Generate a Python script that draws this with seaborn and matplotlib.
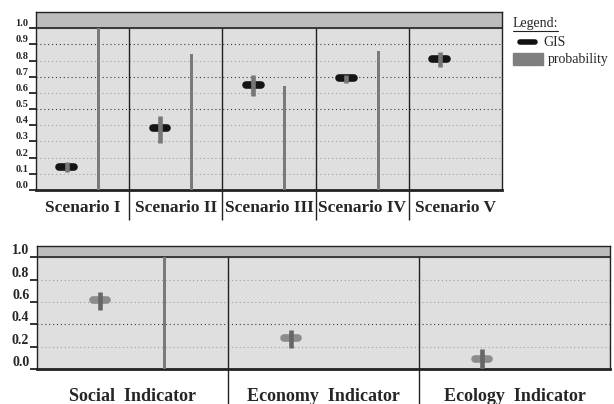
import numpy as np
import pandas as pd
import matplotlib
matplotlib.use('Agg')
import matplotlib.pyplot as plt
import seaborn as sns
from matplotlib.lines import Line2D
from matplotlib.patches import Rectangle

sns.set_style('white')
plt.rcParams['font.family'] = ['Liberation Serif', 'DejaVu Serif']

# Upper panel: scenarios
scenarios = ['Scenario I', 'Scenario II', 'Scenario III', 'Scenario IV', 'Scenario V']
gis = [0.14, 0.385, 0.65, 0.69, 0.81]
gis_low = [0.11, 0.29, 0.58, 0.66, 0.76]
gis_high = [0.17, 0.46, 0.71, 0.71, 0.85]
probability = [1.0, 0.84, 0.64, 0.86, 0.0]
scen_ticks = [0.0, 0.1, 0.2, 0.3, 0.4, 0.5, 0.6, 0.7, 0.8, 0.9, 1.0]

# Lower panel: indicators
indicators = ['Social  Indicator', 'Economy  Indicator', 'Ecology  Indicator']
ind_value = [0.62, 0.28, 0.09]
ind_low = [0.53, 0.19, 0.0]
ind_high = [0.69, 0.35, 0.18]
ind_probability = [1.0, 0.0, 0.0]
ind_ticks = [0.0, 0.2, 0.4, 0.6, 0.8, 1.0]

W, H = 614, 404


def px(x, y):
    return x / W, 1 - y / H


def panel(ax, labels, val, lo, hi, prob, yticks, dark, bar_w, half_w,
          hcolor, vcolor, lab_size, tick_size, lab_pad, row_h):
    n = len(labels)
    pos = np.arange(n)
    val = np.array(val)
    ax.set_facecolor('#dfdfdf')
    ax.axhspan(1.0, 1.1, color='#bcbcbc', zorder=0)
    for i, t in enumerate(yticks[1:-1]):
        ax.axhline(t, color='#3a3a3a' if i + 1 in dark else '#a0a0a0',
                   lw=0.8, ls=(0, (1, 2.5)), zorder=1)
    ax.axhline(1.0, color='#222222', lw=1.2, zorder=3)
    ax.vlines(pos[:-1] + 0.5, -row_h, 1.0 / 1.1, transform=ax.get_xaxis_transform(),
              color='#222222', lw=1, clip_on=False, zorder=3)

    # probability as thin bars
    df = pd.DataFrame({'x': pos + 0.17, 'p': prob})
    sns.barplot(data=df, x='x', y='p', native_scale=True, width=bar_w,
                color='#7a7a7a', saturation=1, errorbar=None, linewidth=0,
                ax=ax, zorder=4)

    # GIS marker: horizontal bar with vertical range
    eb = ax.errorbar(pos - 0.17, val, xerr=half_w, fmt='none', ecolor=hcolor,
                     elinewidth=5.5, capsize=0, zorder=5)
    for c in eb.lines[2]:
        c.set_capstyle('round')
    ax.errorbar(pos - 0.17, val, yerr=[val - np.array(lo), np.array(hi) - val],
                fmt='none', ecolor=vcolor, elinewidth=3.3, capsize=0, zorder=6)

    ax.set_xlim(-0.5, n - 0.5)
    ax.set_ylim(0, 1.1)
    ax.set_xticks(pos, labels)
    ax.set_yticks(yticks, [f'{t:.1f}' for t in yticks])
    ax.tick_params(axis='x', length=0, pad=lab_pad, labelsize=lab_size)
    ax.tick_params(axis='y', length=5, width=1.2, pad=0.5, labelsize=tick_size,
                   left=True, color='#111111')
    for lbl in ax.get_xticklabels() + ax.get_yticklabels():
        lbl.set_fontweight('bold')
    for lbl in ax.get_yticklabels():
        lbl.set_va('bottom')
    ax.set_xlabel('')
    ax.set_ylabel('')
    for s in ['left', 'top', 'right']:
        ax.spines[s].set_color('#222222')
        ax.spines[s].set_linewidth(1)
    ax.spines['bottom'].set_color('#222222')
    ax.spines['bottom'].set_linewidth(2)


fig = plt.figure(figsize=(W / 100, H / 100), dpi=100)

ax1 = fig.add_axes([36 / W, (H - 190) / H, 466 / W, 178 / H])
panel(ax1, scenarios, gis, gis_low, gis_high, probability, scen_ticks,
      dark=[5, 7, 9], bar_w=0.032, half_w=0.08, hcolor='#151515', vcolor='#777777',
      lab_size=12.5, tick_size=7.5, lab_pad=7, row_h=30 / 178)

ax2 = fig.add_axes([37 / W, (H - 369) / H, 573 / W, 123 / H])
panel(ax2, indicators, ind_value, ind_low, ind_high, ind_probability, ind_ticks,
      dark=[2], bar_w=0.016, half_w=0.037, hcolor='#8c8c8c', vcolor='#666666',
      lab_size=13, tick_size=10, lab_pad=14, row_h=40 / 123)

# legend
fig.text(*px(513, 24), 'Legend:', fontsize=10, va='center', ha='left')
fig.add_artist(Line2D([513 / W, 558 / W], [1 - 31 / H] * 2, color='#222222', lw=0.8))
fig.add_artist(Line2D([520 / W, 535 / W], [1 - 42 / H] * 2, color='#111111', lw=4,
                      solid_capstyle='round'))
fig.text(*px(543, 42), 'GIS', fontsize=10, va='center', ha='left')
fig.add_artist(Rectangle(px(513, 65), 30 / W, 12 / H, color='#7f7f7f',
                         transform=fig.transFigure))
fig.text(*px(548, 60), 'probability', fontsize=10, va='center', ha='left')

fig.savefig('out.png', dpi=100)
